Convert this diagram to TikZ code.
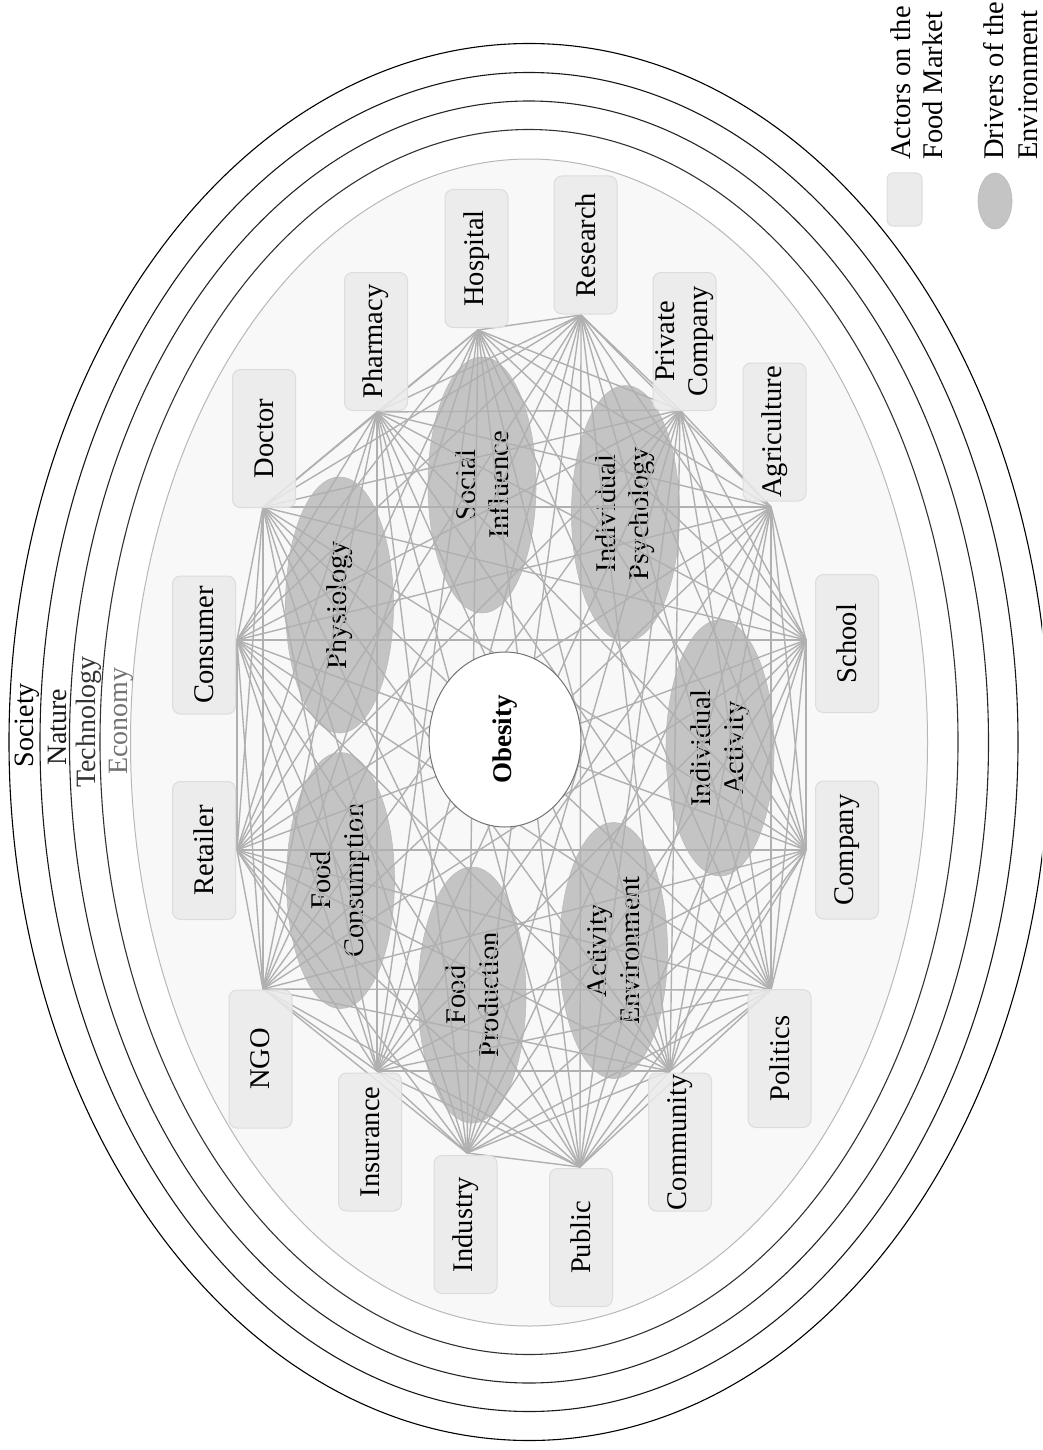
\documentclass[tikz,border=0pt]{standalone}
\usepackage{fontspec}
\setmainfont{Liberation Serif}
\usetikzlibrary{shapes.geometric}
\definecolor{bgfill}{HTML}{F7F8F7}
\definecolor{bgline}{HTML}{B8B8B8}
\definecolor{actfill}{HTML}{EBEBEB}
\definecolor{actline}{HTML}{DCDCDC}
\definecolor{drvfill}{HTML}{C4C4C4}
\definecolor{drvline}{HTML}{BBBBBB}
\definecolor{linkgray}{HTML}{B0B0B0}
\begin{document}
\begin{tikzpicture}[x=1pt,y=-1pt,
  lbl/.style={font=\fontsize{28.5}{33}\selectfont, rotate=90, inner sep=0pt, align=center},
  actor/.style={lbl, rectangle, rounded corners=8pt, fill=actfill, draw=actline,
    line width=1pt, minimum width=138pt, minimum height=63pt,
    fill opacity=0.85, text opacity=1},
  driver/.style={lbl, ellipse, fill=drvfill, draw=drvline, line width=0.6pt,
    minimum width=256pt, minimum height=108pt},
  link/.style={draw=linkgray, line width=1.4pt},
  ring/.style={line width=1.1pt},
  layer/.style={font=\fontsize{28}{33}\selectfont, rotate=90, inner sep=0pt, anchor=base},
  legtext/.style={font=\fontsize{28.5}{33}\selectfont, rotate=90, inner sep=0pt, anchor=base west},
]
\useasboundingbox (0,0) rectangle (1042,1450);
\clip (0,0) rectangle (1042,1450);

% environment layers
\draw[fill=bgfill, draw=bgline, line width=1pt] (529,742.5) ellipse [x radius=398.5pt, y radius=583.5pt];
\draw[ring, black]   (529,742) ellipse [x radius=520pt,   y radius=698.5pt];
\draw[ring, black!90] (529,742) ellipse [x radius=489pt,   y radius=669.5pt];
\draw[ring, black!85] (529,742) ellipse [x radius=459.5pt, y radius=641pt];
\draw[ring, black!80] (529,742) ellipse [x radius=429pt,   y radius=612.5pt];

\node[layer] (society) at (33,725) {Society};
\node[layer, text=black!90] (nature) at (66,727) {Nature};
\node[layer, text=black!80] (technology) at (95,722) {Technology};
\node[layer, text=black!55] (economy) at (127,721) {Economy};

% drivers of the environment
\node[driver] (phys) at (339.5,605)   {Physiology};
\node[driver] (soc)  at (482,485)     {Social\\Influence};
\node[driver] (psy)  at (625.5,513.5) {Individual\\Psychology};
\node[driver] (act)  at (720,748)     {Individual\\Activity};
\node[driver] (env)  at (613.5,950.5) {Activity\\Environment};
\node[driver] (prod) at (472,995)     {Food\\Production};
\node[driver] (cons) at (340.5,880.5) {Food\\Consumption};

% link hubs of the actors
\coordinate (p1)  at (237,640);
\coordinate (p2)  at (263,507);
\coordinate (p3)  at (377,412);
\coordinate (p4)  at (478,330);
\coordinate (p5)  at (581,315);
\coordinate (p6)  at (680,410);
\coordinate (p7)  at (771,507);
\coordinate (p8)  at (806,640);
\coordinate (p9)  at (806,850);
\coordinate (p10) at (771,990);
\coordinate (p11) at (670,1071);
\coordinate (p12) at (580,1167);
\coordinate (p13) at (467,1153);
\coordinate (p14) at (377,1071);
\coordinate (p15) at (263,989);
\coordinate (p16) at (237,850);

% every actor is linked with every other actor
\foreach \i in {1,...,15}{
  \pgfmathtruncatemacro\nx{\i+1}
  \foreach \j in {\nx,...,16}{
    \draw[link] (p\i) -- (p\j);
  }
}

\node[lbl, ellipse, fill=white, draw=black!55, line width=1pt,
  minimum width=175pt, minimum height=152pt, font=\fontsize{27}{33}\selectfont\bfseries]
  (obesity) at (505,739.5) {Obesity};

% actors on the food market
\node[actor] (consumer)  at (204,645)    {Consumer};
\node[actor] (doctor)    at (264,438.5)  {Doctor};
\node[actor] (pharmacy)  at (376,341.5)  {Pharmacy};
\node[actor] (hospital)  at (476.5,258.5){Hospital};
\node[actor] (research)  at (585.5,245)  {Research};
\node[actor] (privco)    at (684.5,341.5){Private\\Company};
\node[actor] (agri)      at (774.5,432)  {Agriculture};
\node[actor] (school)    at (847,643.5)  {School};
\node[actor] (company)   at (847,850)    {Company};
\node[actor] (politics)  at (779.5,1058.5){Politics};
\node[actor] (community) at (680,1142)   {Community};
\node[actor] (public)    at (581,1237.5) {Public};
\node[actor] (industry)  at (465.5,1224.5){Industry};
\node[actor] (insurance) at (370,1142)   {Insurance};
\node[actor] (ngo)       at (260.5,1059) {NGO};
\node[actor] (retailer)  at (204,850.5)  {Retailer};

% legend
\node[rotate=90, rectangle, rounded corners=6pt, fill=actfill, draw=actline, line width=1pt,
  minimum width=53pt, minimum height=35pt, inner sep=0pt] (legact) at (904.5,199.5) {};
\node[rotate=90, ellipse, fill=drvfill, draw=drvline, line width=0.6pt,
  minimum width=56pt, minimum height=34pt, inner sep=0pt] (legdrv) at (995,201) {};
\node[legtext] (legact1) at (910,160)  {Actors on the};
\node[legtext] (legact2) at (942,160)  {Food Market};
\node[legtext] (legdrv1) at (1003,160) {Drivers of the};
\node[legtext] (legdrv2) at (1037,160) {Environment};
\end{tikzpicture}
\end{document}
